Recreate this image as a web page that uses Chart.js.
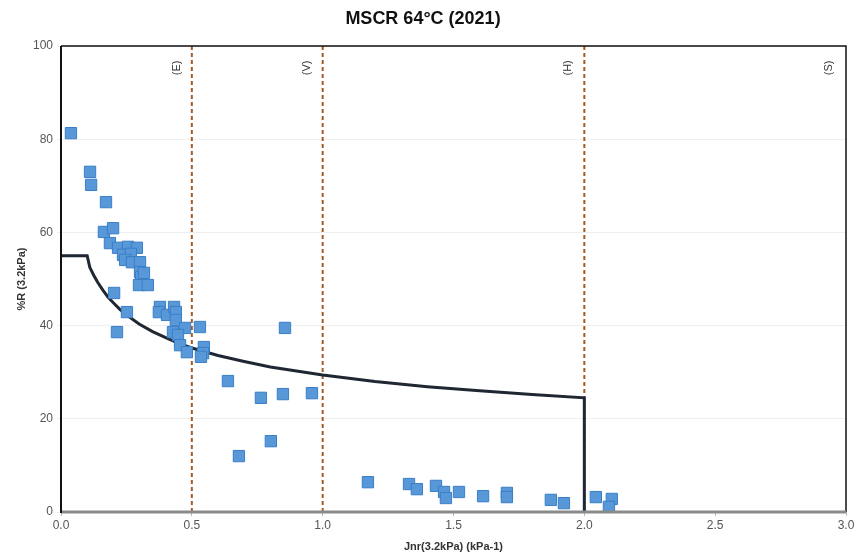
<!DOCTYPE html>
<html>
<head>
<meta charset="utf-8">
<script src="https://cdn.jsdelivr.net/npm/chart.js@4.4.1/dist/chart.umd.min.js"></script>
<style>
  html, body { margin: 0; padding: 0; background: #fff; }
  #wrap { width: 857px; height: 554px; }
</style>
</head>
<body>
<div id="wrap"><canvas id="mscrChart"></canvas></div>
<script>
// binder samples: Jnr at 3.2 kPa and percent recovery at 3.2 kPa
const jnr = [
  0.038, 0.111, 0.115, 0.172, 0.164, 0.199, 0.187, 0.218, 0.256, 0.290,
  0.237, 0.267, 0.245, 0.271, 0.302, 0.302, 0.306, 0.317, 0.298, 0.332,
  0.203, 0.252, 0.214, 0.378, 0.374, 0.405, 0.432, 0.439, 0.439, 0.474,
  0.428, 0.447, 0.531, 0.455, 0.481, 0.546, 0.543, 0.535,
  0.638, 0.764, 0.848, 0.959, 0.856, 0.802, 0.680,
  1.173, 1.330, 1.360, 1.433, 1.464, 1.471, 1.521, 1.613, 1.704, 1.704,
  1.872, 1.922, 2.044, 2.105, 2.094
];
const recovery = [
  81.3, 73.0, 70.2, 66.5, 60.1, 60.9, 57.7, 56.7, 56.9, 56.7,
  55.2, 55.4, 54.1, 53.6, 53.6, 51.5, 50.4, 51.3, 48.7, 48.7,
  47.0, 42.9, 38.6, 44.0, 42.9, 42.3, 44.0, 42.9, 41.2, 39.5,
  38.6, 38.0, 39.7, 35.8, 34.3, 35.4, 34.1, 33.3,
  28.1, 24.5, 25.3, 25.5, 39.5, 15.2, 12.0,
  6.4, 6.0, 4.9, 5.6, 4.3, 3.0, 4.3, 3.4, 4.1, 3.2,
  2.6, 1.9, 3.2, 2.8, 1.1
];

// minimum %R curve, with the drop at Jnr = 2.0
const curveJnr = [0, 0.1, 0.11, 0.125, 0.14, 0.16, 0.18, 0.2, 0.225, 0.25, 0.3, 0.35, 0.4, 0.45, 0.5,
                  0.6, 0.7, 0.8, 1.0, 1.2, 1.4, 1.6, 1.8, 2.0, 2.0];
const curveR   = [55, 55, 52.5, 50.8, 49.3, 47.6, 46.1, 44.9, 43.5, 42.3, 40.3, 38.7, 37.4, 36.2, 35.2,
                  33.6, 32.3, 31.1, 29.4, 28.0, 26.9, 26.0, 25.2, 24.5, 0];

// traffic grade limits and their labels
const limitJnr = [0.5, 1.0, 2.0];
const gradeLabels = ['(E)', '(V)', '(H)', '(S)'];
const gradeLabelJnr = [0.443, 0.94, 1.937, 2.935];

const xTicks = [0, 0.5, 1.0, 1.5, 2.0, 2.5, 3.0];

const samplePoints = jnr.map((x, i) => ({ x: x, y: recovery[i] }));
const curvePoints = curveJnr.map((x, i) => ({ x: x, y: curveR[i] }));

const limitSets = limitJnr.map(x => ({
  type: 'line',
  data: [{ x: x, y: 0 }, { x: x, y: 100 }],
  borderColor: '#a65a24',
  borderWidth: 2,
  borderDash: [4, 3],
  pointRadius: 0,
  fill: false,
  order: 3
}));

// frame + rotated grade labels
const frame = {
  id: 'frame',
  afterDatasetsDraw(chart) {
    const { ctx, chartArea: a, scales } = chart;
    ctx.save();
    ctx.fillStyle = '#333';
    ctx.font = '11px "Liberation Sans", Arial, sans-serif';
    ctx.textAlign = 'center';
    ctx.textBaseline = 'middle';
    gradeLabels.forEach((t, i) => {
      const px = scales.x.getPixelForValue(gradeLabelJnr[i]);
      const py = scales.y.getPixelForValue(95.3);
      ctx.save();
      ctx.translate(px, py);
      ctx.rotate(-Math.PI / 2);
      ctx.fillText(t, 0, 0);
      ctx.restore();
    });
    ctx.strokeStyle = '#111';
    ctx.lineWidth = 1.5;
    ctx.beginPath();
    ctx.moveTo(a.left, a.top);
    ctx.lineTo(a.right, a.top);
    ctx.lineTo(a.right, a.bottom);
    ctx.stroke();
    ctx.strokeStyle = '#8a8a8a';
    ctx.lineWidth = 3;
    ctx.beginPath();
    ctx.moveTo(a.left, a.bottom);
    ctx.lineTo(a.right, a.bottom);
    ctx.stroke();
    ctx.strokeStyle = '#111';
    ctx.lineWidth = 2;
    ctx.beginPath();
    ctx.moveTo(a.left, a.top);
    ctx.lineTo(a.left, a.bottom + 1);
    ctx.stroke();
    ctx.restore();
  }
};

const ctx = document.getElementById('mscrChart').getContext('2d');
Chart.defaults.font.family = '"Liberation Sans", Arial, sans-serif';

new Chart(ctx, {
  type: 'scatter',
  data: {
    datasets: [
      {
        label: 'Samples',
        data: samplePoints,
        pointStyle: 'rect',
        pointRadius: 8,
        backgroundColor: '#5898d8',
        borderColor: '#3a7fc6',
        borderWidth: 1,
        order: 1
      },
      {
        type: 'line',
        label: 'Minimum %R',
        data: curvePoints,
        borderColor: '#1f2733',
        borderWidth: 3,
        pointRadius: 0,
        tension: 0,
        fill: false,
        order: 2
      },
      ...limitSets
    ]
  },
  options: {
    responsive: true,
    maintainAspectRatio: false,
    animation: false,
    layout: { padding: { top: 0, right: 11, bottom: 0, left: 0 } },
    plugins: {
      legend: { display: false },
      tooltip: { enabled: false },
      title: {
        display: true,
        text: 'MSCR 64°C (2021)',
        color: '#111',
        font: { size: 18, weight: 'bold' },
        padding: { top: 8, bottom: 16.4 }
      }
    },
    scales: {
      x: {
        type: 'linear',
        min: 0,
        max: 3,
        afterBuildTicks: s => { s.ticks = xTicks.map(v => ({ value: v })); },
        afterFit: s => { s.height = 42; },
        ticks: {
          color: '#555',
          font: { size: 12 },
          padding: 2,
          maxRotation: 0,
          callback: v => Number(v).toFixed(1)
        },
        grid: { drawOnChartArea: false, tickLength: 4, color: '#bbb' },
        border: { display: false },
        title: {
          display: true,
          text: 'Jnr(3.2kPa) (kPa-1)',
          color: '#333',
          font: { size: 11, weight: 'bold' },
          padding: { top: 2, bottom: 0 }
        }
      },
      y: {
        min: 0,
        max: 100,
        afterFit: s => { s.width = 61; },
        ticks: { stepSize: 20, color: '#555', font: { size: 12 }, padding: 4 },
        grid: { color: '#efefef', tickLength: 4 },
        border: { display: false },
        title: {
          display: true,
          text: '%R (3.2kPa)',
          color: '#333',
          font: { size: 11, weight: 'bold' },
          padding: { top: 15, bottom: 8 }
        }
      }
    }
  },
  plugins: [frame]
});
</script>
</body>
</html>
